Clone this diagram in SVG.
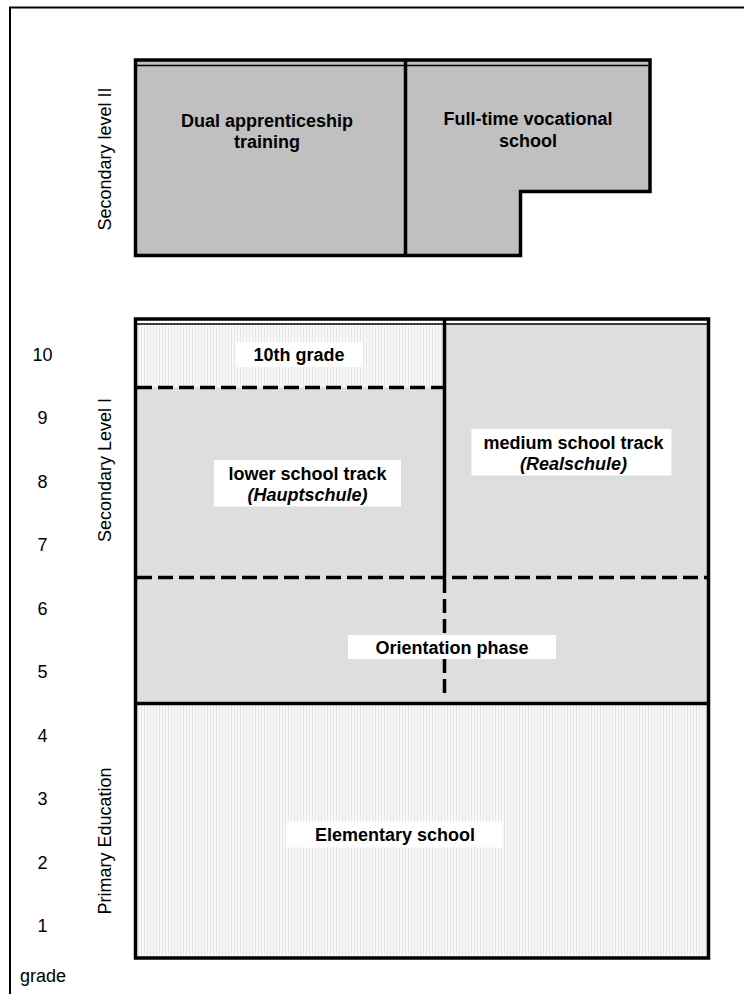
<svg xmlns="http://www.w3.org/2000/svg" width="744" height="994" viewBox="0 0 744 994">
<style>
.lbl{font-family:"Liberation Sans",Arial,sans-serif;font-size:18px;font-weight:bold;fill:#000;text-anchor:middle}
.it{font-style:italic}
.side{font-family:"Liberation Sans",Arial,sans-serif;font-size:18px;fill:#000;text-anchor:middle}
.num{font-family:"Liberation Sans",Arial,sans-serif;font-size:18px;fill:#000;text-anchor:middle}
.thick{stroke:#000;stroke-width:3.5;fill:none}
.thin{stroke:#000;stroke-width:1.5;fill:none}
.dash{stroke:#000;stroke-width:3.5;fill:none;stroke-dasharray:15 6}
.vdash{stroke:#000;stroke-width:3.5;fill:none;stroke-dasharray:14 6}
.bg{fill:#fff}
</style>
<defs>
<pattern id="light" width="3" height="3" patternUnits="userSpaceOnUse">
<rect width="3" height="3" fill="#f8f8f8"/>
<rect width="1" height="3" fill="#e6e6e6"/>
</pattern>
</defs>
<rect width="744" height="994" fill="#fff"/>
<g id="frame">
<path d="M10,994 V7.5 H744" stroke="#000" stroke-width="2" fill="none"/>
</g>
<g id="side-labels">
<text class="side" transform="translate(111,159) rotate(-90)">Secondary level II</text>
<text class="side" transform="translate(111,470) rotate(-90)">Secondary Level I</text>
<text class="side" transform="translate(111,841) rotate(-90)">Primary Education</text>
</g>
<g id="grades">
<text class="num" x="42.5" y="360.5">10</text>
<text class="num" x="42.5" y="424">9</text>
<text class="num" x="42.5" y="487.5">8</text>
<text class="num" x="42.5" y="551">7</text>
<text class="num" x="42.5" y="614.5">6</text>
<text class="num" x="42.5" y="678">5</text>
<text class="num" x="42.5" y="741.5">4</text>
<text class="num" x="42.5" y="805">3</text>
<text class="num" x="42.5" y="868.5">2</text>
<text class="num" x="42.5" y="932">1</text>
<text x="20" y="982" font-family="Liberation Sans,Arial,sans-serif" font-size="18">grade</text>
</g>
<g id="dual-apprenticeship">
<rect x="135.5" y="60" width="270" height="195.5" fill="#c0c0c0"/>
<text class="lbl" x="267" y="127">Dual apprenticeship</text>
<text class="lbl" x="267" y="147.5">training</text>
</g>
<g id="fulltime-vocational">
<path d="M405.5,60 H650 V191.5 H520.5 V255.5 H405.5 Z" fill="#c0c0c0"/>
<text class="lbl" x="528" y="125">Full-time vocational</text>
<text class="lbl" x="528" y="146.5">school</text>
</g>
<g id="secondary-ii-outline">
<line class="thin" x1="137" y1="65.5" x2="648" y2="65.5"/>
<path class="thick" d="M135.5,60 H650 V191.5 H520.5 V255.5 H135.5 Z"/>
<line class="thick" x1="405.5" y1="60" x2="405.5" y2="255.5"/>
</g>
<g id="secondary-i">
<rect x="135.5" y="319" width="573" height="384.5" fill="#dedede"/>
</g>
<g id="tenth-grade">
<rect x="135.5" y="319" width="309" height="68.5" fill="url(#light)"/>
<rect class="bg" x="236" y="342" width="127" height="25"/>
<text class="lbl" x="299" y="361">10th grade</text>
</g>
<g id="lower-track">
<rect class="bg" x="214" y="460" width="187" height="46.5"/>
<text class="lbl" x="307.5" y="480">lower school track</text>
<text class="lbl it" x="307.5" y="501">(Hauptschule)</text>
</g>
<g id="medium-track">
<rect class="bg" x="471.5" y="429" width="200" height="46.5"/>
<text class="lbl" x="573.5" y="448.5">medium school track</text>
<text class="lbl it" x="573.5" y="469.5">(Realschule)</text>
</g>
<g id="elementary-school">
<rect x="135.5" y="703.5" width="573" height="254.5" fill="url(#light)"/>
<rect class="bg" x="287" y="821.5" width="216" height="26"/>
<text class="lbl" x="395" y="840.5">Elementary school</text>
</g>
<g id="connectors">
<rect x="137" y="320.75" width="570" height="2.5" fill="#fff"/>
<line class="thin" x1="137" y1="324" x2="707" y2="324"/>
<line class="dash" x1="137" y1="387.5" x2="444.5" y2="387.5"/>
<line class="dash" x1="137" y1="577.5" x2="707" y2="577.5"/>
<line class="vdash" x1="444.5" y1="579" x2="444.5" y2="697"/>
<line class="thick" x1="444.5" y1="319" x2="444.5" y2="577.5"/>
<line class="thick" x1="135.5" y1="703.5" x2="708.5" y2="703.5"/>
<rect class="thick" x="135.5" y="319" width="573" height="639"/>
</g>
<g id="orientation-phase">
<rect class="bg" x="348" y="635" width="208" height="24"/>
<text class="lbl" x="452" y="653.5">Orientation phase</text>
</g>
</svg>
